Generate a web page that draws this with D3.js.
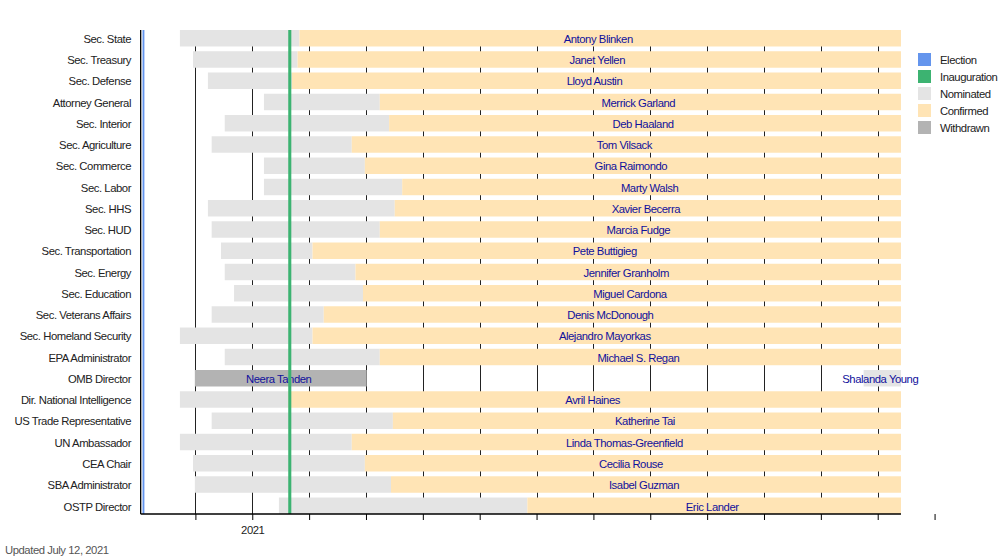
<!DOCTYPE html>
<html>
<head>
<meta charset="utf-8">
<script src="https://cdn.jsdelivr.net/npm/d3@7"></script>
<style>
  body { margin: 0; background: #fff; }
  text { font-family: "Liberation Sans", Arial, sans-serif; font-size: 11.3px; letter-spacing: -0.45px; }
</style>
</head>
<body>
<div id="chart"></div>
<script>
// offices, top to bottom
var offices = ['Sec. State', 'Sec. Treasury', 'Sec. Defense', 'Attorney General', 'Sec. Interior',
  'Sec. Agriculture', 'Sec. Commerce', 'Sec. Labor', 'Sec. HHS', 'Sec. HUD', 'Sec. Transportation',
  'Sec. Energy', 'Sec. Education', 'Sec. Veterans Affairs', 'Sec. Homeland Security', 'EPA Administrator',
  'OMB Director', 'Dir. National Intelligence', 'US Trade Representative', 'UN Ambassador', 'CEA Chair',
  'SBA Administrator', 'OSTP Director'];

// first nominee per office
var nominees = ['Antony Blinken', 'Janet Yellen', 'Lloyd Austin', 'Merrick Garland', 'Deb Haaland',
  'Tom Vilsack', 'Gina Raimondo', 'Marty Walsh', 'Xavier Becerra', 'Marcia Fudge', 'Pete Buttigieg',
  'Jennifer Granholm', 'Miguel Cardona', 'Denis McDonough', 'Alejandro Mayorkas', 'Michael S. Regan',
  'Neera Tanden', 'Avril Haines', 'Katherine Tai', 'Linda Thomas-Greenfield', 'Cecilia Rouse',
  'Isabel Guzman', 'Eric Lander'];
var nominatedOn = ['2020-11-23', '2020-11-30', '2020-12-08', '2021-01-07', '2020-12-17',
  '2020-12-10', '2021-01-07', '2021-01-07', '2020-12-08', '2020-12-10', '2020-12-15',
  '2020-12-17', '2020-12-22', '2020-12-10', '2020-11-23', '2020-12-17',
  '2020-12-01', '2020-11-23', '2020-12-10', '2020-11-23', '2020-11-30',
  '2020-12-01', '2021-01-15'];
// confirmation date (for Tanden: withdrawal date)
var decidedOn = ['2021-01-26', '2021-01-25', '2021-01-22', '2021-03-10', '2021-03-15',
  '2021-02-23', '2021-03-02', '2021-03-22', '2021-03-18', '2021-03-10', '2021-02-02',
  '2021-02-25', '2021-03-01', '2021-02-08', '2021-02-02', '2021-03-10',
  '2021-03-03', '2021-01-20', '2021-03-17', '2021-02-23', '2021-03-02',
  '2021-03-16', '2021-05-28'];
var withdrawn = ['Neera Tanden'];

// second OMB nominee, still pending
var pending = [{office: 'OMB Director', name: 'Shalanda Young', from: '2021-11-24'}];

var periodStart = '2020-11-02';
var periodEnd = '2021-12-14';
var electionDay = '2020-11-03';
var inaugurationDay = '2021-01-20';
var majorTicks = [{date: '2021-01-01', label: '2021'}];
var monthDays = 30.4375;

var legendItems = [
  {label: 'Election', color: '#6495ed'},
  {label: 'Inauguration', color: '#3cb371'},
  {label: 'Nominated', color: '#e4e4e4'},
  {label: 'Confirmed', color: '#ffe4b5'},
  {label: 'Withdrawn', color: '#b3b3b3'}
];
var colors = {};
legendItems.forEach(function (d) { colors[d.label] = d.color; });

var W = 1000, H = 559;
var plot = {top: 30, bottom: 514};
var parse = d3.utcParse('%Y-%m-%d');
var day = 864e5;

var svg = d3.select('#chart').append('svg')
  .attr('width', W).attr('height', H)
  .style('display', 'block');

var x = d3.scaleUtc()
  .domain([parse('2020-11-01'), parse('2022-01-01')])
  .range([138.8, 934.6]);

var y = d3.scaleBand()
  .domain(offices)
  .range([plot.top, plot.bottom])
  .paddingInner(0.224)
  .paddingOuter(0);

var x0 = x(parse(periodStart)), x1 = x(parse(periodEnd));

// minor ticks every average month, counted from the year mark
var anchor = parse(majorTicks[0].date).getTime();
var tickDates = d3.range(-1, 13).map(function (k) { return new Date(anchor + k * monthDays * day); });

var grid = svg.append('g');
grid.selectAll('line.grid')
  .data(tickDates.filter(function (d) { return x(d) < x1; }))
  .enter().append('line')
  .attr('x1', function (d) { return x(d); })
  .attr('x2', function (d) { return x(d); })
  .attr('y1', plot.top).attr('y2', plot.bottom)
  .style('stroke', '#222').style('stroke-width', 1)
  .attr('shape-rendering', 'crispEdges');

// bars
var rows = nominees.map(function (n, i) {
  return {office: offices[i], name: n, from: parse(nominatedOn[i]), to: parse(decidedOn[i]),
    withdrawn: withdrawn.indexOf(n) >= 0};
});

var bars = [];
rows.forEach(function (r) {
  if (r.withdrawn) {
    bars.push({office: r.office, x0: r.from, x1: r.to, status: 'Withdrawn', label: r.name});
  } else {
    bars.push({office: r.office, x0: r.from, x1: r.to, status: 'Nominated'});
    bars.push({office: r.office, x0: r.to, x1: parse(periodEnd), status: 'Confirmed', label: r.name});
  }
});
pending.forEach(function (p) {
  bars.push({office: p.office, x0: parse(p.from), x1: parse(periodEnd), status: 'Nominated', label: p.name});
});

var barG = svg.append('g');
barG.selectAll('rect')
  .data(bars)
  .enter().append('rect')
  .attr('x', function (d) { return x(d.x0); })
  .attr('width', function (d) { return x(d.x1) - x(d.x0); })
  .attr('y', function (d) { return y(d.office); })
  .attr('height', y.bandwidth())
  .style('fill', function (d) { return colors[d.status]; });

barG.selectAll('text')
  .data(bars.filter(function (d) { return d.label; }))
  .enter().append('text')
  .attr('x', function (d) { return (x(d.x0) + x(d.x1)) / 2 - 2; })
  .attr('y', function (d) { return y(d.office) + y.bandwidth() / 2; })
  .attr('dy', '0.42em')
  .attr('text-anchor', 'middle')
  .style('fill', '#10109c')
  .text(function (d) { return d.label; });

// election and inauguration: one-day bars across the chart
[{date: electionDay, key: 'Election', w: 0}, {date: inaugurationDay, key: 'Inauguration', w: 1.2}].forEach(function (e) {
  var d = parse(e.date);
  svg.append('rect')
    .attr('x', x(d))
    .attr('width', x(new Date(d.getTime() + day)) - x(d) + e.w)
    .attr('y', plot.top)
    .attr('height', plot.bottom - plot.top)
    .style('fill', colors[e.key]);
});

// axes
var axis = svg.append('g').style('stroke', '#000').style('stroke-width', 1.3);
axis.append('line')
  .attr('x1', x0).attr('x2', x0)
  .attr('y1', plot.top).attr('y2', plot.bottom);
axis.append('line')
  .attr('x1', x0).attr('x2', x1)
  .attr('y1', plot.bottom).attr('y2', plot.bottom);
axis.selectAll('line.tick')
  .data(tickDates)
  .enter().append('line')
  .attr('x1', function (d) { return x(d); })
  .attr('x2', function (d) { return x(d); })
  .attr('y1', plot.bottom).attr('y2', plot.bottom + 6)
  .style('stroke-width', 1);

svg.selectAll('text.major')
  .data(majorTicks)
  .enter().append('text')
  .attr('x', function (d) { return x(parse(d.date)); })
  .attr('y', plot.bottom + 20)
  .attr('text-anchor', 'middle')
  .style('fill', '#222')
  .text(function (d) { return d.label; });

// office labels
svg.append('g').selectAll('text')
  .data(offices)
  .enter().append('text')
  .attr('x', 131)
  .attr('y', function (d) { return y(d) + y.bandwidth() / 2; })
  .attr('dy', '0.42em')
  .attr('text-anchor', 'end')
  .style('fill', '#222')
  .text(function (d) { return d; });

// legend
var legend = svg.append('g').attr('transform', 'translate(918,53)');
var li = legend.selectAll('g')
  .data(legendItems)
  .enter().append('g')
  .attr('transform', function (d, i) { return 'translate(0,' + i * 17 + ')'; });
li.append('rect')
  .attr('width', 13).attr('height', 13)
  .style('fill', function (d) { return d.color; });
li.append('text')
  .attr('x', 22).attr('y', 6.5).attr('dy', '0.42em')
  .style('fill', '#222')
  .text(function (d) { return d.label; });

svg.append('text')
  .attr('x', 5).attr('y', 554)
  .style('fill', '#555')
  .text('Updated July 12, 2021');
</script>
</body>
</html>
